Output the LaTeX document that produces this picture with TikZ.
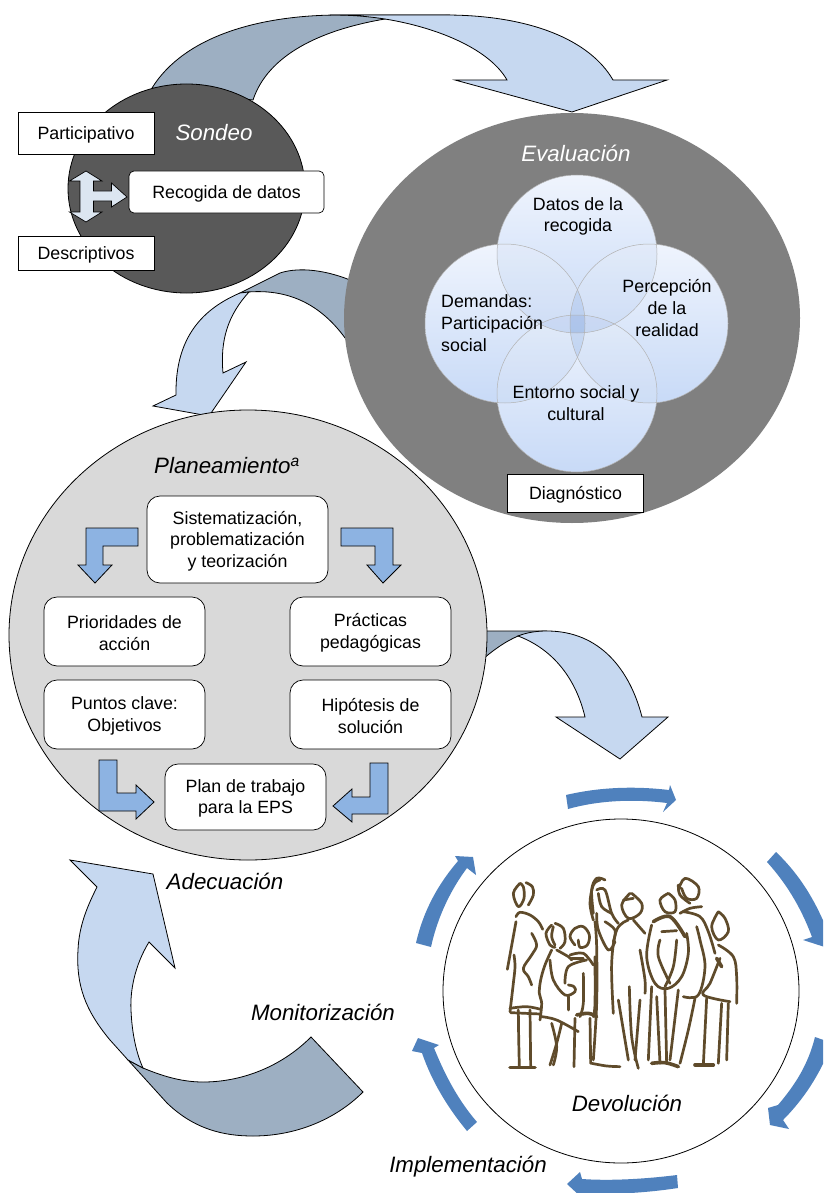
\documentclass[tikz,border=0pt]{standalone}
\usepackage{fontspec}
\setmainfont{Liberation Sans}
\definecolor{darkband}{HTML}{9DAFC2}
\definecolor{lightband}{HTML}{C6D8F0}
\definecolor{cornerblue}{HTML}{8DB3E2}
\definecolor{arcblue}{HTML}{4F81BD}
\definecolor{sketch}{HTML}{5F4B2B}
\definecolor{triarrow}{HTML}{DCE6F1}
\definecolor{vtop}{HTML}{EFF4FD}
\definecolor{vbot}{HTML}{C8DAF7}
\definecolor{vlens}{HTML}{5F8FD8}
\tikzset{
  txt/.style={font=\fontsize{17.8}{21.7}\selectfont,align=center,inner sep=0pt,text=black},
  ital/.style={txt,font=\fontsize{22.3}{26}\selectfont\itshape},
  sqbox/.style={draw=black,fill=white,line width=.7pt,inner sep=0pt},
  rdbox/.style={sqbox,rounded corners=13pt},
  dband/.style={draw=black,line width=.8pt,fill=darkband},
  lband/.style={draw=black,line width=.8pt,fill=lightband},
  corner/.style={draw=black,line width=.8pt,fill=cornerblue},
  bluearc/.style={fill=arcblue,draw=none},
  venn/.style={top color=vtop,bottom color=vbot},
  vennline/.style={draw=gray!60,line width=.5pt},
  pen/.style={draw=sketch,line width=2.7pt,line cap=round,line join=round},
  penb/.style={pen,line width=3.6pt},
}
\newcommand{\stroke}[2][pen]{\draw[#1] plot[smooth,tension=.6] coordinates {#2};}
\newcommand{\boxnode}[4]{\node[#1] (#2) at #3 {}; \node[txt] (#2t) at ([yshift=-1.5pt]#2.center) {#4};}
\newcommand{\lens}[2]{\begin{scope}\clip #1; \fill[vlens,opacity=.09] #2;\end{scope}}
\begin{document}
\begin{tikzpicture}[x=1pt,y=-1pt]
\path[use as bounding box,clip] (0,0) rectangle (823,1193);
\fill[white] (0,0) rectangle (823,1193);
% top sweeping arrow
\draw[dband] (152,88) .. controls (185,35) and (262,15) .. (340,15) -- (450,15) -- (385,19) .. controls (320,30) and (268,55) .. (253,100) -- cycle;
\draw[lband] (330,15) -- (445,15) .. controls (530,15) and (590,40) .. (613,80) -- (667,80) -- (572,112) -- (455,80) -- (507,80) .. controls (490,50) and (440,28) .. (385,19) .. controls (365,16) and (350,15) .. (330,15) -- cycle;
% Sondeo
\draw[line width=.8pt,fill=black!65] (186.5,188.5) ellipse [x radius=118.5,y radius=104.5];
\node[ital,text=white] (sondeo) at (214,133) {Sondeo};
\boxnode{sqbox,minimum width=136pt,minimum height=42pt}{part}{(86,133)}{Participativo}
\boxnode{sqbox,minimum width=136pt,minimum height=34pt}{desc}{(86,253)}{Descriptivos}
\boxnode{rdbox,rounded corners=5pt,minimum width=195pt,minimum height=42pt}{rec}{(226.5,192)}{Recogida de datos}
\draw[line width=.7pt,fill=triarrow] (86,171) -- (102,181) -- (93.5,181) -- (93.5,191) -- (111.5,191) -- (111.5,183) -- (127,197) -- (111.5,207) -- (111.5,201) -- (93.5,201) -- (93.5,212) -- (102,212) -- (86,222) -- (69.5,212) -- (80,212) -- (80,181) -- (69.5,181) -- cycle;
% second arrow
\draw[dband] (240,293) -- (280,273) .. controls (295,268) and (320,268) .. (350,280) -- (350,345) .. controls (330,315) and (300,288) .. (248,292) -- cycle;
\draw[lband] (240,293) .. controls (205,308) and (175,335) .. (176,395) -- (153,406) -- (209,416) -- (246,362) -- (223,373) .. controls (220,340) and (228,315) .. (249,292) -- cycle;
% Evaluacion
\fill[black!50] (572,318) ellipse [x radius=228,y radius=205];
\node[ital,text=white] (eval) at (576,153) {Evaluación};
\def\va{(577,254) circle [x radius=80,y radius=79]}
\def\vb{(505,323.5) circle [x radius=80,y radius=79.5]}
\def\vc{(649,323.5) circle [x radius=79,y radius=79.5]}
\def\vd{(577,393.5) circle [x radius=80,y radius=78.5]}
\path[venn] \va; \path[venn] \vb; \path[venn] \vc; \path[venn] \vd;
\lens{\va}{\vb} \lens{\va}{\vc} \lens{\va}{\vd} \lens{\vb}{\vc} \lens{\vb}{\vd} \lens{\vc}{\vd}
\path[vennline] \va; \path[vennline] \vb; \path[vennline] \vc; \path[vennline] \vd;
\node[txt] (t1) at (578,216.5) {Datos de la\\recogida};
\node[txt,align=left,anchor=west] (t2) at (441,323) {Demandas:\\Participación\\social};
\node[txt] (t3) at (667,308) {Percepción\\de la\\realidad};
\node[txt] (t4) at (576,403) {Entorno social y\\cultural};
\boxnode{sqbox,minimum width=136pt,minimum height=38pt}{diag}{(575.5,493)}{Diagnóstico}
% third arrow
\draw[dband] (470,631) -- (547,631) -- (518,636) .. controls (505,642) and (495,648) .. (470,670) -- cycle;
\draw[lband] (518,636) .. controls (528,632) and (538,631) .. (547,631) .. controls (600,631) and (630,670) .. (642,717) -- (668,717) -- (620,759) -- (556,717) -- (585,717) .. controls (575,675) and (550,648) .. (518,636) -- cycle;
% Planeamiento
\draw[line width=.8pt,fill=black!15] (248,635) ellipse [x radius=239,y radius=225];
\node[ital] (plan) at (227,466) {Planeamiento\textsuperscript{a}};
\boxnode{rdbox,minimum width=181pt,minimum height=87pt}{sis}{(237.5,539.5)}{Sistematización,\\problematización\\y teorización}
\boxnode{rdbox,minimum width=161pt,minimum height=69pt}{pri}{(124.5,631.5)}{Prioridades de\\acción}
\boxnode{rdbox,minimum width=161pt,minimum height=69pt}{pra}{(370.5,631.5)}{Prácticas\\pedagógicas}
\boxnode{rdbox,minimum width=161pt,minimum height=69pt}{pun}{(124.5,714.5)}{Puntos clave:\\Objetivos}
\boxnode{rdbox,minimum width=161pt,minimum height=69pt}{hip}{(370.5,714.5)}{Hipótesis de\\solución}
\boxnode{rdbox,minimum width=161pt,minimum height=66pt}{pla}{(245.5,797)}{Plan de trabajo\\para la EPS}
\draw[corner] (138,528) -- (138,546) -- (103,546) -- (103,565) -- (112,565) -- (95,583) -- (78,565) -- (86,565) -- (86,528) -- cycle;
\draw[corner] (341,528) -- (393,528) -- (393,565) -- (401,565) -- (383,583) -- (367,565) -- (375,565) -- (375,546) -- (341,546) -- cycle;
\draw[corner] (99,760) -- (117,760) -- (117,793) -- (136,793) -- (136,785) -- (154,802) -- (136,819) -- (136,811) -- (99,811) -- cycle;
\draw[corner] (388,763) -- (370,763) -- (370,797) -- (352,797) -- (352,789) -- (333,806) -- (352,822) -- (352,814) -- (388,814) -- cycle;
% lower-left arrow
\draw[dband] (128,1060) -- (167,1103) .. controls (195,1130) and (225,1136) .. (253,1136) .. controls (295,1136) and (335,1120) .. (363,1092) -- (311,1037) .. controls (280,1068) and (240,1082) .. (203,1082) .. controls (180,1082) and (160,1075) .. (143,1068) -- cycle;
\draw[lband] (70,860) -- (153,874) -- (175,968) -- (149,942) .. controls (135,965) and (130,990) .. (131,1010) .. controls (132,1035) and (137,1055) .. (143,1068) -- (128,1060) -- (110,1040) .. controls (85,1010) and (76,985) .. (78,950) .. controls (79,925) and (88,905) .. (97,887) -- cycle;
\node[ital] (ade) at (225,881) {Adecuación};
\node[ital] (mon) at (323,1012) {Monitorización};
\node[ital] (imp) at (468,1167) {Implementación};
% Devolucion
\draw[line width=.8pt,fill=white] (621,991) ellipse [x radius=178,y radius=172];
\node[ital] (dev) at (627,1103) {Devolución};
% blue arcs
\path[bluearc] (566,795) .. controls (600,787) and (635,786) .. (669,790) -- (670,785) -- (676,800) -- (663,812) -- (667,803) .. controls (635,799) and (600,800) .. (568,809) -- cycle;
\path[bluearc] (776,852) .. controls (800,875) and (815,900) .. (828,932) -- (838,925) -- (834,950) -- (803,940) -- (812,937) .. controls (800,905) and (785,882) .. (767,862) -- cycle;
\path[bluearc] (815,1037) .. controls (808,1065) and (795,1085) .. (778,1105) -- (768,1108) -- (770,1125) -- (789,1129) -- (783,1120) .. controls (803,1100) and (820,1075) .. (832,1043) -- cycle;
\path[bluearc] (677,1175) .. controls (645,1179) and (610,1181) .. (582,1179) -- (580,1172) -- (567,1184) -- (581,1197) -- (582,1193) .. controls (610,1195) and (645,1193) .. (678,1188) -- cycle;
\path[bluearc] (477,1122) .. controls (458,1100) and (445,1075) .. (434,1048) -- (439,1045) -- (418,1038) -- (412,1051) -- (422,1053) .. controls (432,1082) and (448,1108) .. (467,1131) -- cycle;
\path[bluearc] (416,943) .. controls (424,908) and (440,882) .. (458,861) -- (455,856) -- (473,857) -- (476,875) -- (467,868) .. controls (452,888) and (438,915) .. (431,947) -- cycle;
% sketch, left part
\begin{scope}[shift={(500,870)},x=.3333pt,y=-.3333pt]
\stroke{(60,40)(40,70)(55,110)(72,85)(70,50)(60,40)}
\stroke{(78,38)(97,50)(100,75)(85,105)}
\stroke{(48,140)(60,127)(90,135)(115,155)(128,178)}
\stroke{(48,155)(38,210)(22,298)}
\stroke{(42,255)(45,290)(40,340)(30,425)}
\stroke{(95,190)(110,225)(95,255)(70,295)(85,320)(95,345)}
\stroke{(30,415)(80,410)(122,418)}
\stroke{(32,428)(120,432)}
\stroke{(55,420)(56,500)(58,590)}
\stroke{(90,420)(91,500)(92,590)}
\stroke[penb]{(30,592)(105,592)}
\stroke{(155,165)(138,190)(150,225)(165,232)}
\stroke{(165,160)(190,175)(195,215)(180,235)}
\stroke{(160,170)(155,200)(165,225)}
\stroke{(155,240)(135,285)(122,330)(118,370)(125,400)(120,450)}
\stroke{(150,270)(160,330)(195,375)(225,365)(222,350)(205,345)}
\stroke{(170,240)(205,260)(215,270)}
\stroke{(125,440)(170,450)(235,485)}
\stroke{(205,380)(205,420)}
\stroke{(155,460)(170,530)(160,585)}
\stroke{(185,460)(170,520)(150,585)}
\stroke{(225,225)(210,200)(225,175)(250,170)(268,195)(262,225)(240,232)(235,210)}
\stroke{(210,255)(250,250)(280,285)}
\stroke{(215,265)(250,265)}
\stroke{(260,270)(205,290)(195,340)}
\stroke{(250,310)(250,400)(240,440)}
\stroke{(285,260)(285,400)(280,440)}
\stroke[penb]{(230,435)(265,430)(290,440)}
\stroke{(225,445)(222,590)}
\stroke{(270,445)(272,580)}
\stroke{(300,30)(280,45)(270,100)(280,150)}
\stroke{(285,155)(290,230)(290,400)(280,570)}
\stroke{(275,580)(320,588)(360,590)}
\end{scope}
% sketch, right part
\begin{scope}[shift={(590,870)},x=.3333pt,y=-.3333pt]
\stroke{(45,30)(20,25)(5,60)(10,130)}
\stroke{(20,60)(45,60)(65,130)(85,160)}
\stroke{(25,70)(35,110)(65,130)}
\stroke{(20,130)(25,180)(55,240)(75,215)}
\stroke{(45,155)(75,180)(70,215)}
\stroke{(120,70)(95,105)(115,145)(150,130)(155,100)(125,70)}
\stroke{(100,90)(130,85)}
\stroke{(115,150)(80,180)(65,280)(70,430)}
\stroke{(130,150)(165,190)}
\stroke{(150,240)(165,330)(165,370)}
\stroke{(85,390)(115,570)}
\stroke{(118,350)(125,500)(145,595)}
\stroke{(150,390)(135,570)}
\stroke{(235,70)(210,90)(225,125)(255,125)(255,90)(235,70)}
\stroke{(185,165)(170,260)(195,340)(235,355)(275,320)(295,250)(290,190)}
\stroke[penb]{(190,155)(240,140)(285,200)}
\stroke{(210,210)(205,260)(240,340)}
\stroke{(260,210)(250,290)(225,350)}
\stroke{(215,185)(260,182)}
\stroke{(185,350)(175,570)}
\stroke{(200,380)(210,580)}
\stroke{(225,360)(230,580)}
\stroke{(265,360)(240,570)}
\stroke[penb]{(185,580)(225,578)(265,590)}
\stroke{(265,60)(285,25)(325,50)(320,85)(290,85)(275,55)}
\stroke{(265,45)(270,75)(300,100)}
\stroke{(270,130)(300,115)(335,110)}
\stroke{(280,125)(330,140)(355,185)(375,250)}
\stroke{(320,170)(330,210)(345,290)(325,375)(280,380)}
\stroke{(315,385)(295,480)(270,580)}
\stroke{(385,125)(365,170)(385,210)(415,185)(405,145)(385,125)}
\stroke{(385,225)(430,260)(440,320)(440,400)}
\stroke{(390,265)(360,340)(340,375)(420,395)}
\stroke{(350,385)(340,585)}
\stroke{(395,400)(385,580)}
\stroke{(415,400)(410,570)}
\stroke[penb]{(315,585)(370,585)}
\stroke[penb]{(380,265)(395,290)}
\end{scope}
\end{tikzpicture}
\end{document}
